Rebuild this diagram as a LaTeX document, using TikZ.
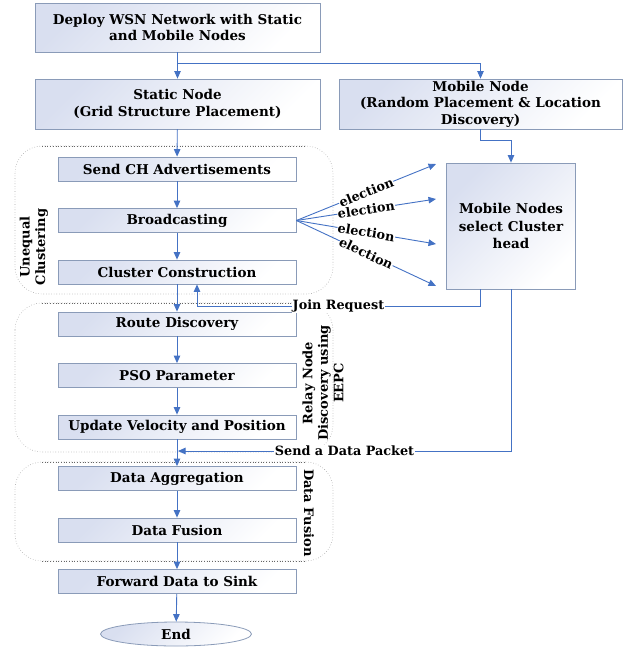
\documentclass[tikz,border=0pt]{standalone}
\usepackage{fontspec}
\setmainfont{DejaVu Serif}
\usetikzlibrary{arrows.meta,shapes.geometric,calc}
\definecolor{arrowblue}{HTML}{4472C4}
\definecolor{boxedge}{HTML}{8A9BB8}
\definecolor{boxfill}{HTML}{D9DFF0}
\definecolor{contgray}{HTML}{A8A8A8}
\begin{document}
\begin{tikzpicture}[x=1pt,y=-1pt,
  box/.style={draw=boxedge, line width=0.8pt, top color=boxfill, bottom color=white, shading angle=45,
    minimum width=238pt, minimum height=24pt, inner sep=0pt, align=center,
    font=\bfseries\fontsize{13.5}{16.8}\selectfont},
  bigbox/.style={box, minimum width=285pt, minimum height=50pt},
  arr/.style={draw=arrowblue, line width=0.9pt, -{Triangle[length=7.5pt,width=6.5pt]}},
  elab/.style={font=\bfseries\fontsize{12.8}{14}\selectfont, fill=white, inner sep=0.3pt, sloped},
  lab/.style={font=\bfseries\fontsize{12.8}{14}\selectfont, fill=white, inner sep=1pt},
  container/.style={draw=contgray, dotted, line width=0.6pt, rounded corners=27pt},
  ctop/.style={draw=gray!80!black, dotted, line width=0.7pt},
  clab/.style={font=\bfseries\fontsize{13}{15.5}\selectfont, align=center, inner sep=0pt}
]
\useasboundingbox (0,0) rectangle (624,649);

% containers
\draw[container] (15,146) rectangle (333,294);
\draw[container] (15,303) rectangle (333,452);
\draw[container] (15,462) rectangle (333,561);
\draw[ctop] (42,146) -- (305,146);
\draw[ctop] (42,303) -- (305,303);
\draw[ctop] (42,462) -- (305,462);
\draw[ctop] (42,561) -- (305,561);

% nodes
\node[bigbox, minimum height=49pt] (deploy) at (177.5,27.5) {Deploy WSN Network with Static\\and Mobile Nodes};
\node[bigbox] (static) at (177.5,104) {Static Node\\(Grid Structure Placement)};
\node[bigbox, minimum width=283pt, font=\bfseries\fontsize{13.5}{16.5}\selectfont] (mobile) at (480.5,104) {Mobile Node\\(Random Placement \& Location\\Discovery)};
\node[box] (sendch) at (177,169) {Send CH Advertisements};
\node[box] (bc) at (177,220.5) {Broadcasting};
\node[box] (cc) at (177,272) {Cluster Construction};
\node[box] (rd) at (177,324) {Route Discovery};
\node[box] (pso) at (177,375.5) {PSO Parameter};
\node[box] (uvp) at (177,427) {Update Velocity and Position};
\node[box] (da) at (177,478.5) {Data Aggregation};
\node[box] (df) at (177,530) {Data Fusion};
\node[box] (fwd) at (177,581.5) {Forward Data to Sink};
\node[box, ellipse, minimum width=151pt, minimum height=24pt] (end) at (176,634) {End};
\node[box, minimum width=129pt, minimum height=126pt, font=\bfseries\fontsize{13.5}{17.5}\selectfont] (mcs) at (511,226) {Mobile Nodes\\select Cluster\\head};

% container labels
\node[clab, rotate=90] (ucl) at (34,247) {Unequal\\Clustering};
\node[clab, rotate=90] (rcl) at (323,383) {Relay Node\\Discovery using\\EEPC};
\node[clab, rotate=-90] (dfl) at (309,513) {Data Fusion};

% coordinates
\coordinate (split) at (177.5,63);
\coordinate (e1) at (436,164);
\coordinate (e2) at (436,199);
\coordinate (e3) at (436,244);
\coordinate (e4) at (436,286);
\coordinate (jrturn) at (197,306);
\coordinate (pkt) at (178,451);

% connectors
\draw[arr] (deploy) -- (static);
\draw[arr] (split) -| (mobile.north);
\draw[arr] (static) -- (sendch);
\draw[arr] (sendch) -- (bc);
\draw[arr] (bc) -- (cc);
\draw[arr] (cc) -- (rd);
\draw[arr] (rd) -- (pso);
\draw[arr] (pso) -- (uvp);
\draw[arr] (uvp) -- (da);
\draw[arr] (da) -- (df);
\draw[arr] (df) -- (fwd);
\draw[arr] (fwd) -- (end);
\draw[arr] (mobile.south) -- ++(0,11) -| (mcs.north);

\draw[arr] (bc.east) -- node[elab]{election} (e1);
\draw[arr] (bc.east) -- node[elab]{election} (e2);
\draw[arr] (bc.east) -- node[elab]{election} (e3);
\draw[arr] (bc.east) -- node[elab]{election} (e4);

\draw[arr] ([xshift=-31pt]mcs.south) |- node[pos=0.75, lab]{Join Request} (jrturn) -- ([xshift=20pt]cc.south);
\draw[arr] (mcs.south) |- node[pos=0.75, lab]{Send a Data Packet} (pkt);
\end{tikzpicture}
\end{document}
